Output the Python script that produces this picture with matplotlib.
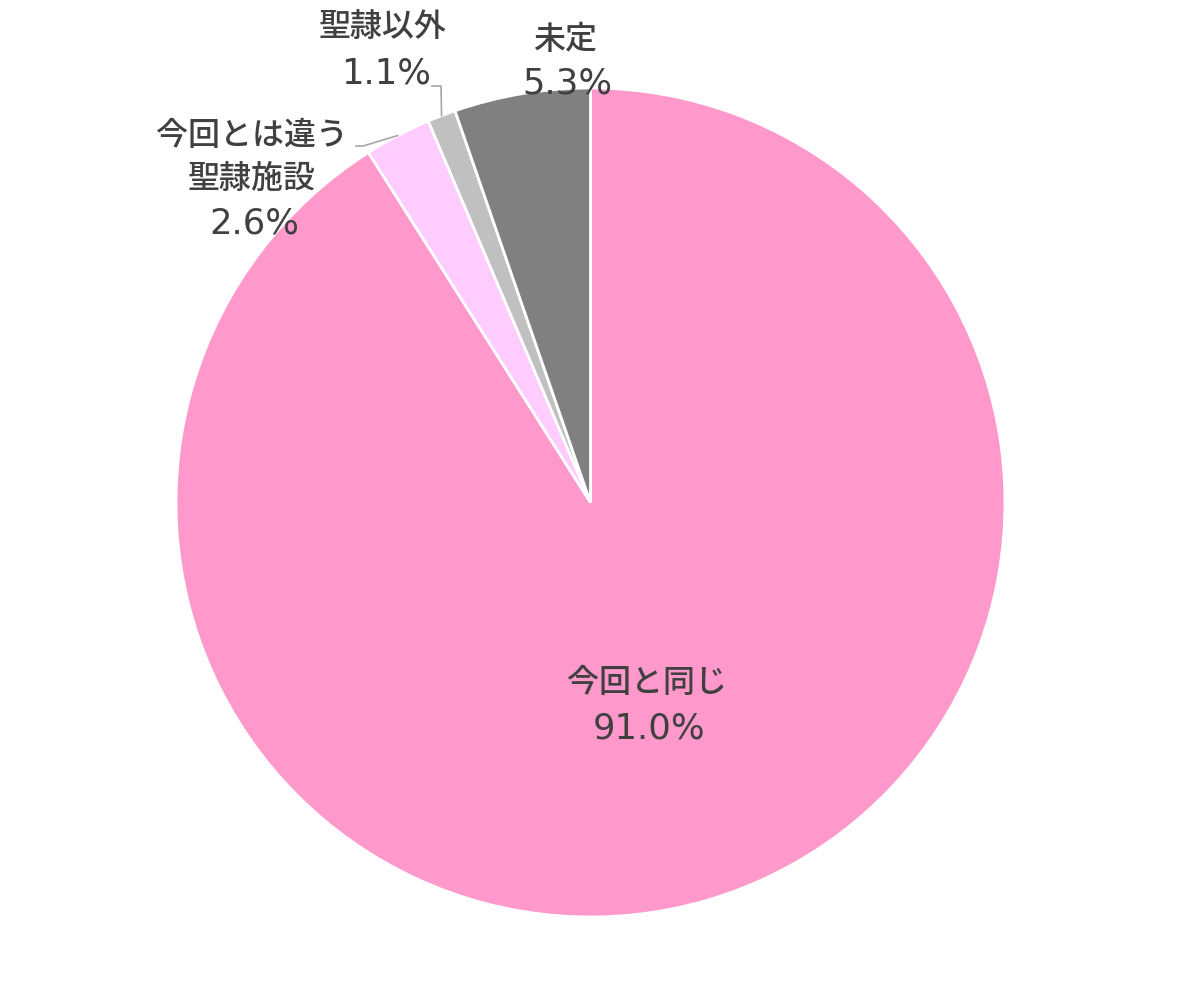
"""Pie chart: 次回の出産施設の希望."""

import numpy as np
import matplotlib

matplotlib.use("Agg")

import matplotlib.pyplot as plt

plt.rcParams["font.family"] = ["Noto Sans CJK JP", "DejaVu Sans"]

labels = ["今回と同じ", "今回とは違う\n聖隷施設", "聖隷以外", "未定"]
values = [91.0, 2.6, 1.1, 5.3]
colors = ["#FF99CC", "#FFCCFF", "#C0C0C0", "#808080"]

W, H = 1182, 1005
CX, CY, R = 590.5, H - 502.5, 414.5
TEXT_COLOR = "#404040"

# name line centres (x, y from top) and percentage baselines (x, y from top)
name_pos = [(647, 683), (252, 158), (383, 28), (565, 40)]
pct_pos = [(649, 738), (254, 233), (386, 83), (567, 93)]
NAME_GAP = 44.5  # px between lines of a two-line name
# leader lines: elbow (x from, x to, y from top) for the small slices
leaders = {1: (356, 363, 146), 2: (432, 441, 86)}

fig = plt.figure(figsize=(W / 100, H / 100), dpi=100)
ax = fig.add_axes([0, 0, 1, 1])

wedges, _ = ax.pie(
    values,
    colors=colors,
    startangle=90,
    counterclock=False,
    center=(CX, CY),
    radius=R,
    wedgeprops={"edgecolor": "white", "linewidth": 2.0},
    frame=True,
)
ax.axis("off")
ax.set_xlim(0, W)
ax.set_ylim(0, H)
ax.set_aspect("equal")

for i, (name, val) in enumerate(zip(labels, values)):
    x, y = name_pos[i]
    lines = name.split("\n")
    y0 = y - NAME_GAP * (len(lines) - 1) / 2
    for k, line in enumerate(lines):
        ax.text(x, H - (y0 + k * NAME_GAP), line, ha="center", va="center",
                fontsize=23, color=TEXT_COLOR, fontweight="medium")
    px, py = pct_pos[i]
    ax.text(px, H - py, f"{val:.1f}%", ha="center", va="baseline",
            fontsize=25.5, color=TEXT_COLOR, family="DejaVu Sans")

for i, (x0, x1, y) in leaders.items():
    w = wedges[i]
    mid = np.deg2rad((w.theta1 + w.theta2) / 2)
    ex, ey = CX + R * np.cos(mid), CY + R * np.sin(mid)
    ax.plot([x0, x1, ex], [H - y, H - y, ey], color="#A6A6A6", lw=1.2)

fig.savefig("out.png", dpi=100, facecolor="white")
